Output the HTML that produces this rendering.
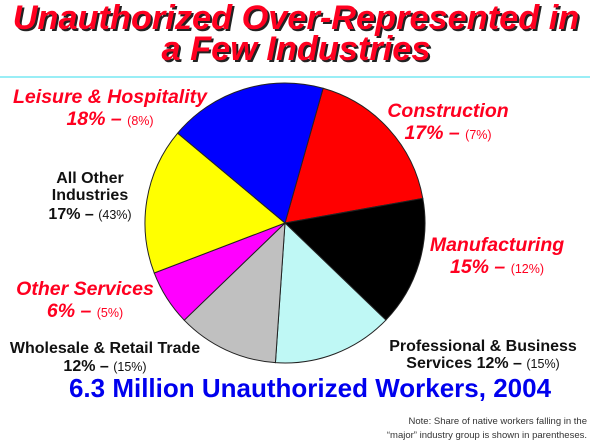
<!DOCTYPE html>
<html><head><meta charset="utf-8"><style>
html,body{margin:0;padding:0;background:#fff;}
svg{display:block;font-family:"Liberation Sans",Arial,sans-serif;}
</style></head><body>
<svg id="chart" width="600" height="443" viewBox="0 0 600 443" xmlns="http://www.w3.org/2000/svg">
<g font-size="34" font-weight="bold" font-style="italic" text-anchor="middle" transform="translate(296,0) scale(1.01,1) translate(-296,0)">
  <text x="298" y="31" fill="#222">Unauthorized Over-Represented in</text>
  <text x="298" y="62" fill="#222">a Few Industries</text>
  <text x="296" y="29" fill="#ff0020">Unauthorized Over-Represented in</text>
  <text x="296" y="60" fill="#ff0020">a Few Industries</text>
</g>
<line x1="0" y1="77" x2="590" y2="77" stroke="#33ddee" stroke-width="1"/>
<g id="slices"></g>

<g text-anchor="middle" fill="#ff0020" font-style="italic" font-weight="bold" font-size="19.5">
  <text x="110" y="103">Leisure &amp; Hospitality</text>
  <text x="110" y="125">18% – <tspan font-size="12.5" font-weight="normal" font-style="normal">(8%)</tspan></text>
</g>
<g text-anchor="middle" fill="#ff0020" font-style="italic" font-weight="bold" font-size="19.5">
  <text x="448" y="117">Construction</text>
  <text x="448" y="139">17% – <tspan font-size="12.5" font-weight="normal" font-style="normal">(7%)</tspan></text>
</g>
<g text-anchor="middle" fill="#111" font-weight="bold" font-size="16">
  <text x="90" y="183">All Other</text>
  <text x="90" y="200">Industries</text>
  <text x="90" y="219">17% – <tspan font-size="12.5" font-weight="normal">(43%)</tspan></text>
</g>
<g text-anchor="middle" fill="#ff0020" font-style="italic" font-weight="bold" font-size="19.5">
  <text x="497" y="251">Manufacturing</text>
  <text x="497" y="273">15% – <tspan font-size="12.5" font-weight="normal" font-style="normal">(12%)</tspan></text>
</g>
<g text-anchor="middle" fill="#ff0020" font-style="italic" font-weight="bold" font-size="19.5">
  <text x="85" y="295">Other Services</text>
  <text x="85" y="317">6% – <tspan font-size="12.5" font-weight="normal" font-style="normal">(5%)</tspan></text>
</g>
<g text-anchor="middle" fill="#111" font-weight="bold" font-size="16">
  <text x="105" y="353">Wholesale &amp; Retail Trade</text>
  <text x="105" y="371">12% – <tspan font-size="12.5" font-weight="normal">(15%)</tspan></text>
</g>
<g text-anchor="middle" fill="#111" font-weight="bold" font-size="16">
  <text x="483" y="351">Professional &amp; Business</text>
  <text x="483" y="368">Services 12% – <tspan font-size="12.5" font-weight="normal">(15%)</tspan></text>
</g>
<text x="310" y="397" text-anchor="middle" fill="#0000ee" font-size="26" font-weight="bold">6.3 Million Unauthorized Workers, 2004</text>
<g text-anchor="end" fill="#333" font-size="9.5">
  <text x="587" y="424">Note: Share of native workers falling in the</text>
  <text x="587" y="438">“major” industry group is shown in parentheses.</text>
</g>
</svg>
<script>
const categories = ["Construction","Manufacturing","Professional & Business Services","Wholesale & Retail Trade","Other Services","All Other Industries","Leisure & Hospitality"];
const shares = [17.8, 15.0, 13.9, 11.7, 6.4, 16.9, 18.3];
const colors = ["#ff0000","#000000","#bff8f5","#c0c0c0","#ff00ff","#ffff00","#0000ff"];
const cx = 285, cy = 223, r = 140, startDeg = 15.8;
const g = document.getElementById('slices');
const total = shares.reduce((a,b)=>a+b,0);
function pt(deg){const a=(deg-90)*Math.PI/180;return [cx+r*Math.cos(a), cy+r*Math.sin(a)];}
let acc = startDeg;
shares.forEach((v,i)=>{
  const span = v/total*360;
  const p1 = pt(acc), p2 = pt(acc+span);
  const large = span>180?1:0;
  const path = document.createElementNS('http://www.w3.org/2000/svg','path');
  path.setAttribute('d',`M${cx},${cy} L${p1[0]},${p1[1]} A${r},${r} 0 ${large} 1 ${p2[0]},${p2[1]} Z`);
  path.setAttribute('fill',colors[i]);
  path.setAttribute('stroke','#222');
  path.setAttribute('stroke-width','1');
  
  
  g.appendChild(path);
  acc += span;
});
</script>
</body></html>
